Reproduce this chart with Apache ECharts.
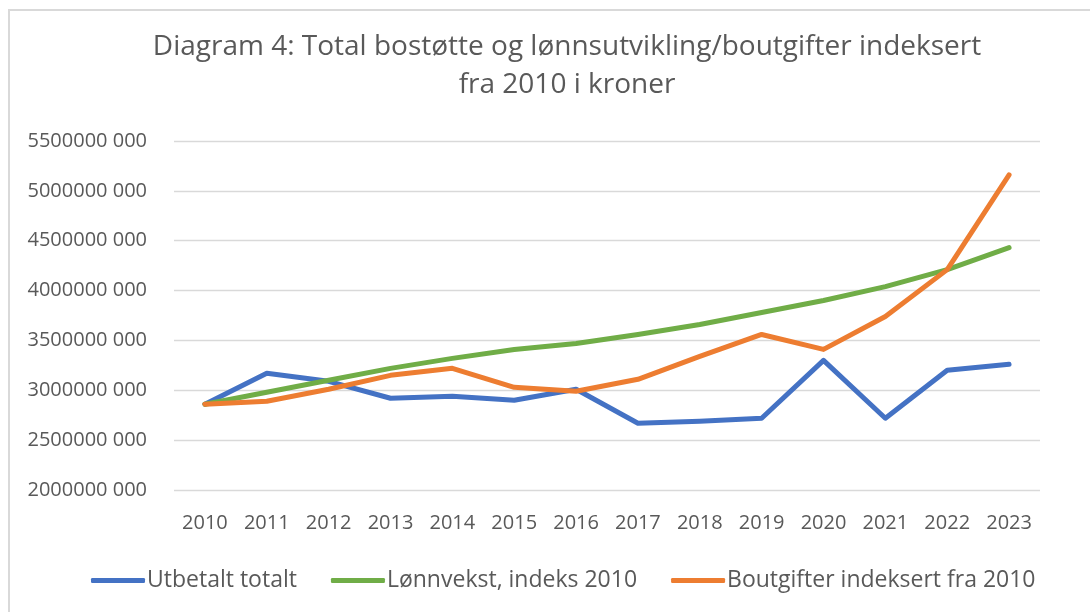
<!DOCTYPE html>
<html style="height: 100%">

<head>
  <meta charset="utf-8">
</head>

<body style="height: 100%; margin: 0; background: #fff">
  <div id="container" style="width: 1090px; height: 612px"></div>
  <script type="text/javascript" src="https://cdn.jsdelivr.net/npm/echarts@6/dist/echarts.min.js"></script>
  <script type="text/javascript">
    var years = ['2010', '2011', '2012', '2013', '2014', '2015', '2016',
      '2017', '2018', '2019', '2020', '2021', '2022', '2023'];
    var utbetalt = [2860e6, 3170e6, 3090e6, 2920e6, 2940e6, 2900e6, 3010e6,
      2670e6, 2690e6, 2720e6, 3300e6, 2720e6, 3200e6, 3260e6];
    var lonnvekst = [2860e6, 2980e6, 3100e6, 3220e6, 3320e6, 3410e6, 3470e6,
      3560e6, 3660e6, 3780e6, 3900e6, 4040e6, 4210e6, 4430e6];
    var boutgifter = [2860e6, 2890e6, 3010e6, 3150e6, 3220e6, 3030e6, 2990e6,
      3110e6, 3340e6, 3560e6, 3410e6, 3740e6, 4210e6, 5160e6];
    var seriesNames = ['Utbetalt totalt', 'Lønnvekst, indeks 2010', 'Boutgifter indeksert fra 2010'];
    var titleText = 'Diagram 4: Total bostøtte og lønnsutvikling/boutgifter indeksert\nfra 2010 i kroner';

    var font = '"Open Sans", sans-serif';
    var textColor = '#595959';

    var dom = document.getElementById("container");
    var myChart = echarts.init(dom);

    function line(name, data, color) {
      return {
        name: name,
        type: 'line',
        data: data,
        symbol: 'none',
        color: color,
        lineStyle: { width: 5, color: color, cap: 'round', join: 'round' },
        animation: false
      };
    }

    var option = {
      backgroundColor: '#fff',
      textStyle: { fontFamily: font },
      graphic: [{
        type: 'rect',
        shape: { x: 9, y: 10, width: 1200, height: 700 },
        style: { fill: 'none', stroke: '#d9d9d9', lineWidth: 2 },
        silent: true
      }, {
        // title, centred over the frame
        type: 'text',
        x: 567,
        y: 28,
        silent: true,
        style: {
          text: titleText,
          fill: textColor,
          font: '28px "Open Sans", sans-serif',
          lineHeight: 38,
          align: 'center',
          verticalAlign: 'top'
        }
      }],
      legend: {
        data: seriesNames,
        bottom: 15,
        left: 86,
        icon: 'roundRect',
        itemWidth: 54,
        itemHeight: 5,
        itemGap: 34,
        textStyle: { fontFamily: font, fontSize: 23, color: textColor, padding: [0, 0, 0, -3] }
      },
      grid: { left: 174, right: 50, top: 141, bottom: 122 },
      xAxis: {
        type: 'category',
        data: years,
        boundaryGap: true,
        axisLine: { show: false },
        axisTick: { show: false },
        axisLabel: { interval: 0, fontFamily: font, fontSize: 20, color: textColor, margin: 23 }
      },
      yAxis: {
        type: 'value',
        min: 2000000000,
        max: 5500000000,
        interval: 500000000,
        axisLine: { show: false },
        axisTick: { show: false },
        splitLine: { lineStyle: { color: '#d9d9d9', width: 1.3 } },
        axisLabel: {
          fontFamily: font,
          fontSize: 20,
          color: textColor,
          margin: 27,
          formatter: function (v) {
            return Math.round(v / 1000) + ' 000';
          }
        }
      },
      series: [
        line(seriesNames[0], utbetalt, '#4472C4'),
        line(seriesNames[1], lonnvekst, '#70AD47'),
        line(seriesNames[2], boutgifter, '#ED7D31')
      ]
    };
    myChart.setOption(option);
  </script>
</body>

</html>
